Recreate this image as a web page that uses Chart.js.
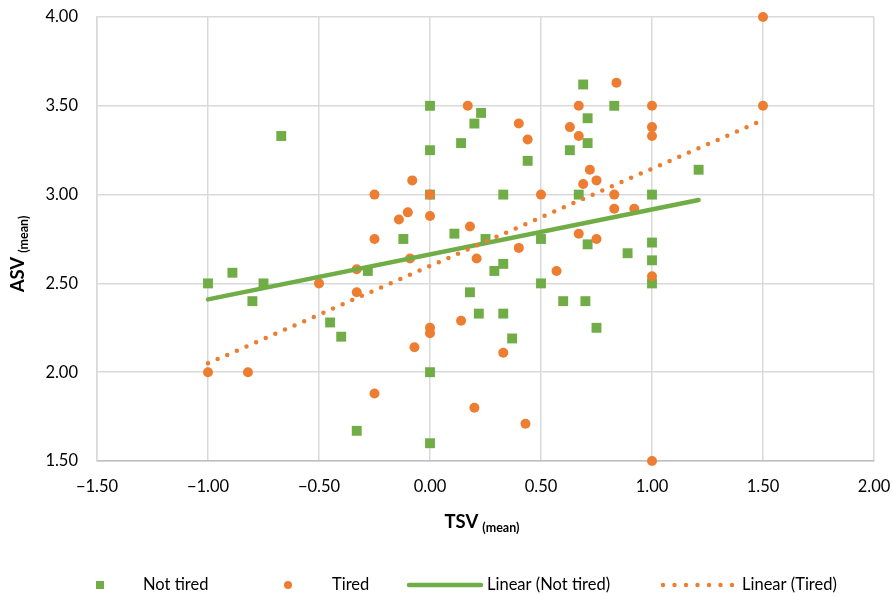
<!DOCTYPE html>
<html>
<head>
<meta charset="utf-8">
<script src="https://cdn.jsdelivr.net/npm/chart.js@4/dist/chart.umd.min.js"></script>
<style>
  html, body { margin: 0; padding: 0; background: #fff; }
  #wrap { width: 893px; height: 596px; }
</style>
</head>
<body>
<div id="wrap"><canvas id="myChart" width="893" height="596"></canvas></div>
<script>
// Valeurs : TSV (x) et ASV (y) moyens
const notTiredTSV = [-1.00, -0.89, -0.80, -0.75, -0.67, -0.45, -0.40, -0.33, -0.28, -0.12,
  0.00, 0.00, 0.00, 0.00, 0.00, 0.11, 0.14, 0.18, 0.20, 0.22, 0.23, 0.25, 0.29, 0.33, 0.33,
  0.33, 0.37, 0.44, 0.50, 0.50, 0.60, 0.63, 0.67, 0.69, 0.70, 0.71, 0.71, 0.71, 0.75, 0.83,
  0.89, 1.00, 1.00, 1.00, 1.00, 1.21];
const notTiredASV = [2.50, 2.56, 2.40, 2.50, 3.33, 2.28, 2.20, 1.67, 2.57, 2.75,
  3.50, 3.25, 3.00, 2.00, 1.60, 2.78, 3.29, 2.45, 3.40, 2.33, 3.46, 2.75, 2.57, 3.00, 2.61,
  2.33, 2.19, 3.19, 2.75, 2.50, 2.40, 3.25, 3.00, 3.62, 2.40, 3.43, 3.29, 2.72, 2.25, 3.50,
  2.67, 3.00, 2.73, 2.63, 2.50, 3.14];

const tiredTSV = [-1.00, -0.82, -0.50, -0.33, -0.33, -0.25, -0.25, -0.25, -0.14, -0.10,
  -0.09, -0.08, -0.07, 0.00, 0.00, 0.00, 0.00, 0.14, 0.17, 0.18, 0.20, 0.21, 0.33, 0.40,
  0.40, 0.43, 0.44, 0.50, 0.57, 0.63, 0.67, 0.67, 0.67, 0.69, 0.72, 0.75, 0.75, 0.83, 0.83,
  0.84, 0.92, 1.00, 1.00, 1.00, 1.00, 1.00, 1.50, 1.50];
const tiredASV = [2.00, 2.00, 2.50, 2.58, 2.45, 3.00, 2.75, 1.88, 2.86, 2.90,
  2.64, 3.08, 2.14, 3.00, 2.88, 2.25, 2.22, 2.29, 3.50, 2.82, 1.80, 2.64, 2.11, 3.40,
  2.70, 1.71, 3.31, 3.00, 2.57, 3.38, 3.50, 3.33, 2.78, 3.06, 3.14, 3.08, 2.75, 3.00, 2.92,
  3.63, 2.92, 3.50, 3.38, 3.33, 2.54, 1.50, 4.00, 3.50];

// Extrémités des courbes de tendance
const trendNotTiredTSV = [-1.00, 1.21];
const trendNotTiredASV = [2.41, 2.97];
const trendTiredTSV = [-1.00, 1.50];
const trendTiredASV = [2.05, 3.42];

const legendLabels = ['Not tired', 'Tired', 'Linear (Not tired)', 'Linear (Tired)'];

const GREEN = '#70ad47';
const ORANGE = '#ed7d31';
const FONT = 'Lato, "Open Sans", sans-serif';

const toPoints = (xs, ys) => xs.map((x, i) => ({ x: x, y: ys[i] }));

const fmt = (v) => {
  const s = Math.abs(v).toFixed(2);
  return v < 0 ? '\u2212' + s : s;
};

// Titres des axes avec indice "(mean)" + légende dessinée à la main
const extras = {
  id: 'extras',
  afterDraw(chart) {
    const ctx = chart.ctx;
    ctx.save();
    ctx.fillStyle = '#000';
    ctx.textBaseline = 'alphabetic';

    // Titre X
    ctx.font = 'bold 18.5px ' + FONT;
    const w1 = ctx.measureText('TSV').width;
    ctx.font = 'bold 12.5px ' + FONT;
    const w2 = ctx.measureText('(mean)').width;
    let x0 = 482 - (w1 + 4 + w2) / 2;
    ctx.font = 'bold 18.5px ' + FONT;
    ctx.textAlign = 'left';
    ctx.fillText('TSV', x0, 528);
    ctx.font = 'bold 12.5px ' + FONT;
    ctx.fillText('(mean)', x0 + w1 + 4, 532);

    // Titre Y (tourné)
    ctx.translate(24, 254);
    ctx.rotate(-Math.PI / 2);
    ctx.font = 'bold 18.5px ' + FONT;
    const h1 = ctx.measureText('ASV').width;
    ctx.font = 'bold 12.5px ' + FONT;
    const h2 = ctx.measureText('(mean)').width;
    let y0 = -(h1 + 4 + h2) / 2;
    ctx.font = 'bold 18.5px ' + FONT;
    ctx.fillText('ASV', y0, 0);
    ctx.font = 'bold 12.5px ' + FONT;
    ctx.fillText('(mean)', y0 + h1 + 4, 4);
    ctx.setTransform(1, 0, 0, 1, 0, 0);

    // Légende
    const ly = 585;
    ctx.font = '16.5px ' + FONT;
    ctx.textBaseline = 'middle';
    ctx.fillStyle = GREEN;
    ctx.fillRect(96, ly - 4, 8, 8);
    ctx.fillStyle = '#000';
    ctx.fillText(legendLabels[0], 143, ly);

    ctx.fillStyle = ORANGE;
    ctx.beginPath();
    ctx.arc(288, ly, 4, 0, Math.PI * 2);
    ctx.fill();
    ctx.fillStyle = '#000';
    ctx.fillText(legendLabels[1], 332, ly);

    ctx.strokeStyle = GREEN;
    ctx.lineWidth = 4.5;
    ctx.lineCap = 'round';
    ctx.beginPath();
    ctx.moveTo(409, ly);
    ctx.lineTo(481, ly);
    ctx.stroke();
    ctx.fillText(legendLabels[2], 487, ly);

    ctx.fillStyle = ORANGE;
    for (let i = 0; i < 7; i++) {
      ctx.beginPath();
      ctx.arc(663 + i * 11.5, ly, 2.2, 0, Math.PI * 2);
      ctx.fill();
    }
    ctx.fillStyle = '#000';
    ctx.fillText(legendLabels[3], 742, ly);
    ctx.restore();
  }
};

const ctx = document.getElementById('myChart').getContext('2d');

const myChart = new Chart(ctx, {
  type: 'scatter',
  data: {
    datasets: [
      {
        label: legendLabels[0],
        data: toPoints(notTiredTSV, notTiredASV),
        pointStyle: 'rect',
        pointRadius: 7,
        pointBorderWidth: 0,
        backgroundColor: GREEN,
        borderColor: GREEN,
        clip: false,
        order: 3
      },
      {
        label: legendLabels[1],
        data: toPoints(tiredTSV, tiredASV),
        pointStyle: 'circle',
        pointRadius: 5,
        pointBorderWidth: 0,
        backgroundColor: ORANGE,
        borderColor: ORANGE,
        clip: false,
        order: 2
      },
      {
        label: legendLabels[2],
        data: toPoints(trendNotTiredTSV, trendNotTiredASV),
        showLine: true,
        pointRadius: 0,
        borderColor: GREEN,
        borderWidth: 4.5,
        borderCapStyle: 'round',
        order: 1
      },
      {
        label: legendLabels[3],
        data: toPoints(trendTiredTSV, trendTiredASV),
        showLine: true,
        pointRadius: 0,
        borderColor: ORANGE,
        borderWidth: 4.5,
        borderCapStyle: 'round',
        borderDash: [0, 10.5],
        order: 0
      }
    ]
  },
  options: {
    responsive: false,
    animation: false,
    devicePixelRatio: 1,
    layout: { padding: { top: 17, right: 19, left: 0, bottom: 0 } },
    plugins: {
      legend: { display: false },
      tooltip: { enabled: false }
    },
    scales: {
      x: {
        type: 'linear',
        min: -1.5,
        max: 2,
        afterFit: (s) => { s.height = 135; s.paddingLeft = 0; s.paddingRight = 0; },
        ticks: {
          stepSize: 0.5,
          padding: 16,
          color: '#000',
          font: { family: FONT, size: 16.5 },
          maxRotation: 0,
          callback: (v) => fmt(v)
        },
        grid: { color: '#d9d9d9', lineWidth: 1.5, drawTicks: false },
        border: { color: '#bfbfbf', width: 1.5 }
      },
      y: {
        min: 1.5,
        max: 4,
        afterFit: (s) => { s.width = 97; s.paddingTop = 0; s.paddingBottom = 0; },
        ticks: {
          stepSize: 0.5,
          padding: 19,
          color: '#000',
          font: { family: FONT, size: 16.5 },
          callback: (v) => fmt(v)
        },
        grid: { color: '#d9d9d9', lineWidth: 1.5, drawTicks: false },
        border: { color: '#d9d9d9', width: 1.5 }
      }
    }
  },
  plugins: [extras]
});
</script>
</body>
</html>
